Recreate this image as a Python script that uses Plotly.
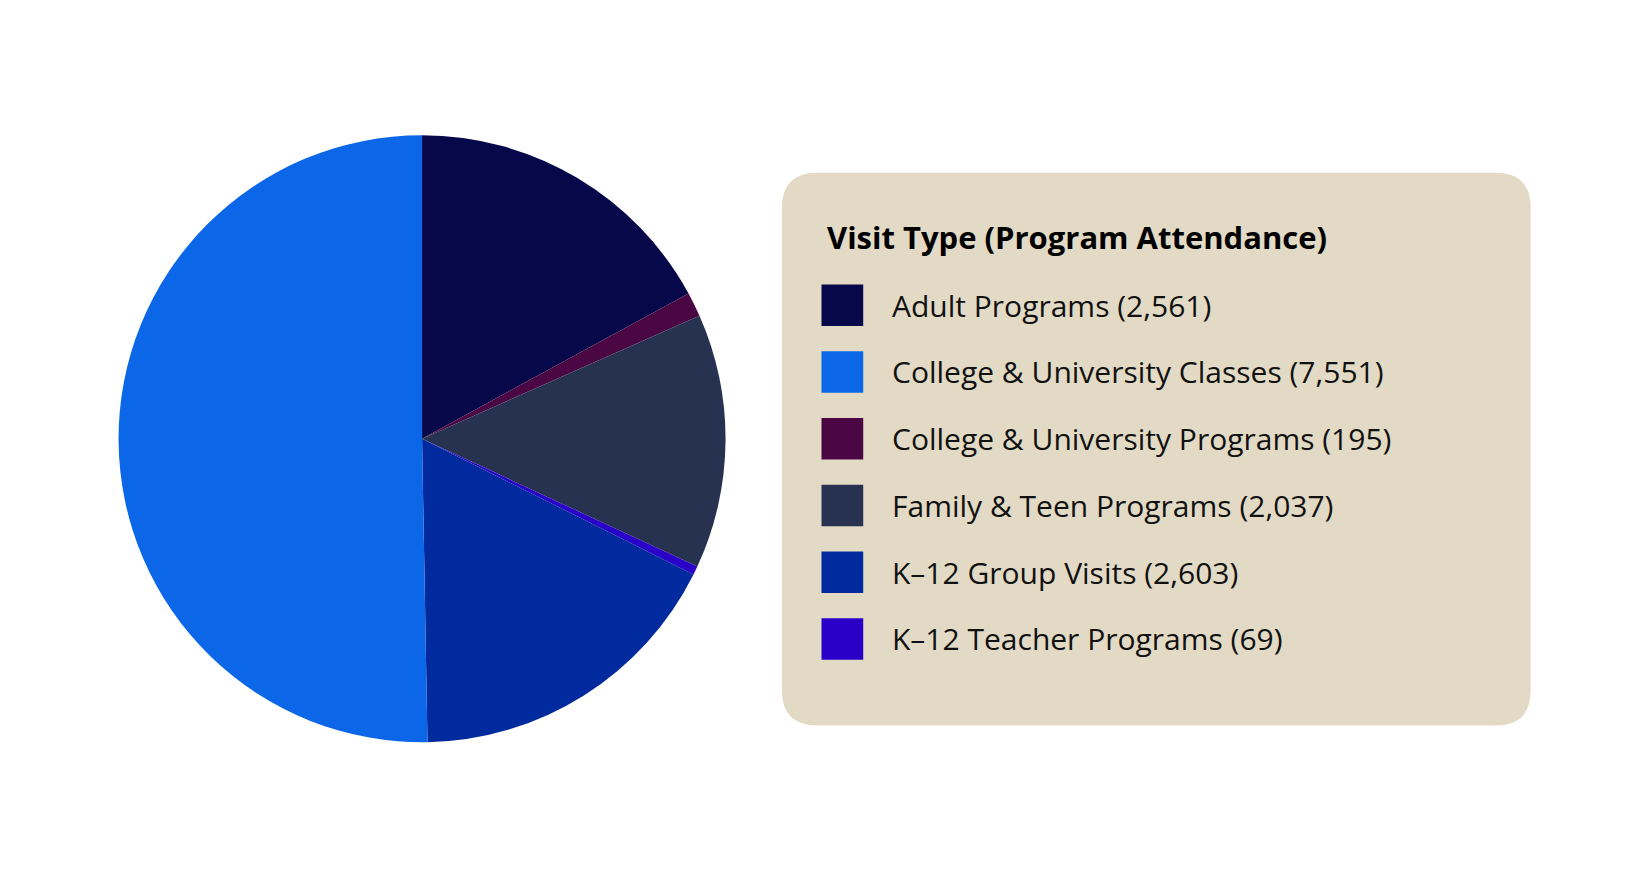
import plotly.graph_objects as go

W, H = 1627, 881
S = 1627 / 1560  # reference picture measured at 1560 px wide

# slices, clockwise from 12 o'clock
labels = ["Adult Programs", "College & University Programs", "Family & Teen Programs",
          "K–12 Teacher Programs", "K–12 Group Visits", "College & University Classes"]
values = [2561, 195, 2037, 69, 2603, 7551]
colors = ["#06084a", "#4a0743", "#263250", "#2a00c8", "#002a9e", "#0b67e8"]

legend_order = ["Adult Programs", "College & University Classes", "College & University Programs",
                "Family & Teen Programs", "K–12 Group Visits", "K–12 Teacher Programs"]
legend_title = "Visit Type (Program Attendance)"


def px(x):
    return x * S / W


def py(y):
    return 1 - y * S / H


fig = go.Figure(go.Pie(
    labels=labels, values=values, sort=False, direction="clockwise", rotation=0,
    marker=dict(colors=colors, line=dict(width=0)), textinfo="none", hoverinfo="label+value",
    domain=dict(x=[px(106), px(688)], y=[py(704), py(122)]),
))

# rounded legend box
x0, x1, y0, y1, r = 742, 1460, 158, 688, 34
path = (f"M {px(x0 + r)},{py(y0)} L {px(x1 - r)},{py(y0)} Q {px(x1)},{py(y0)} {px(x1)},{py(y0 + r)} "
        f"L {px(x1)},{py(y1 - r)} Q {px(x1)},{py(y1)} {px(x1 - r)},{py(y1)} "
        f"L {px(x0 + r)},{py(y1)} Q {px(x0)},{py(y1)} {px(x0)},{py(y1 - r)} "
        f"L {px(x0)},{py(y0 + r)} Q {px(x0)},{py(y0)} {px(x0 + r)},{py(y0)} Z")
shapes = [dict(type="path", path=path, xref="paper", yref="paper",
               fillcolor="#e2dac5", line=dict(width=0), layer="below")]

annotations = [dict(text=f"<b>{legend_title}</b>", x=px(783), y=py(220), xref="paper", yref="paper",
                    xanchor="left", yanchor="middle", showarrow=False,
                    font=dict(family="Open Sans", size=31, color="#000000"))]

for i, name in enumerate(legend_order):
    k = labels.index(name)
    yc = 285 + i * 64
    shapes.append(dict(type="rect", xref="paper", yref="paper", x0=px(780), x1=px(820),
                       y0=py(yc + 20), y1=py(yc - 20), fillcolor=colors[k], line=dict(width=0)))
    annotations.append(dict(text=f"{name} ({values[k]:,})", x=px(846), y=py(yc), xref="paper",
                            yref="paper", xanchor="left", yanchor="middle", showarrow=False,
                            font=dict(family="Open Sans", size=30, color="#111111")))

fig.update_layout(
    width=W, height=H, margin=dict(l=0, r=0, t=0, b=0), showlegend=False,
    paper_bgcolor="white", plot_bgcolor="white", shapes=shapes, annotations=annotations,
)

fig.write_html("out.html")
